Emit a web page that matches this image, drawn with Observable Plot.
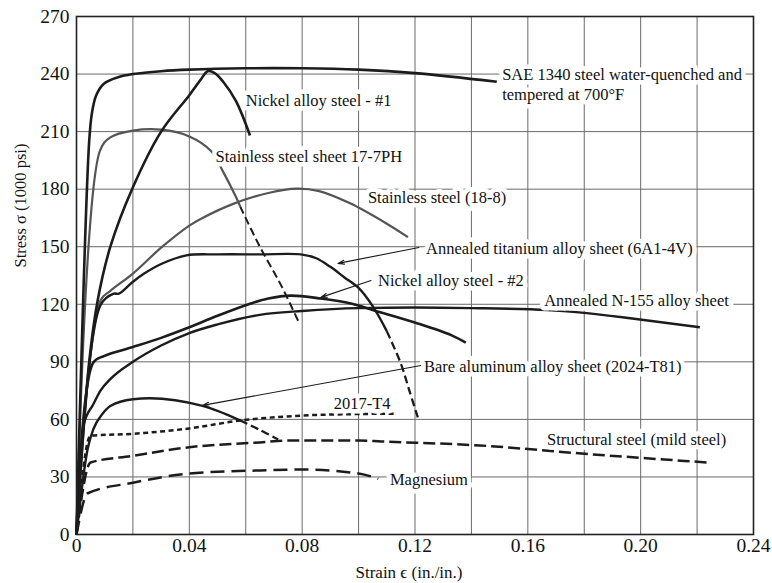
<!DOCTYPE html>
<html>
<head>
<meta charset="utf-8">
<script src="https://cdn.jsdelivr.net/npm/d3@7"></script>
<script src="https://cdn.jsdelivr.net/npm/@observablehq/plot@0.6"></script>
<style>
  html, body { margin: 0; padding: 0; background: #fff; }
</style>
</head>
<body>
<div id="chart"></div>
<script>
// ---- axis ticks ----
const xTicks = [0, 0.04, 0.08, 0.12, 0.16, 0.20, 0.24];
const xTickLabels = ["0", "0.04", "0.08", "0.12", "0.16", "0.20", "0.24"];
const yTicks = [0, 30, 60, 90, 120, 150, 180, 210, 240, 270];
const xGrid = [0.02, 0.04, 0.06, 0.08, 0.10, 0.12, 0.14, 0.16, 0.18, 0.20, 0.22];
const yGrid = [30, 60, 90, 120, 150, 180, 210, 240];

// ---- curves: [strain, stress (1000 psi)] ----
const sae1340 = [[0,0],[0.0045,205],[0.0055,220],[0.007,229],[0.0097,235],[0.015,238.5],[0.02,240],[0.03,241.5],[0.04,242.3],[0.06,243],[0.08,243],[0.10,242.3],[0.12,240.5],[0.149,236]];
const nickel1 = [[0,0],[0.0045,90],[0.0075,122],[0.012,150],[0.02,181],[0.03,210],[0.04,229],[0.044,237],[0.0465,241.5],[0.049,240.5],[0.052,236],[0.0565,226],[0.0615,208]];
const ss177ph = [[0,0],[0.0083,200],[0.012,207],[0.02,210.5],[0.03,211],[0.04,207.5],[0.0476,200],[0.052,189],[0.0565,176],[0.058,171]];
const ss177phDash = [[0.058,171],[0.065,150],[0.0725,130],[0.079,110]];
const ss188 = [[0,0],[0.0085,122],[0.012,127],[0.02,136],[0.03,149.5],[0.04,161],[0.044,164.5],[0.056,172.6],[0.068,178],[0.078,180.3],[0.086,179],[0.097,172.6],[0.11,162],[0.1175,155]];
const titanium = [[0,0],[0.0085,119.5],[0.0132,125.5],[0.015,125.5],[0.0198,131.5],[0.024,136],[0.03,141],[0.039,145.5],[0.05,146],[0.065,146],[0.0795,146],[0.085,144],[0.09,139.5],[0.095,134],[0.10,128.5],[0.105,119],[0.11,106]];
const titaniumDash = [[0.11,106],[0.115,89],[0.118,75],[0.121,61]];
const nickel2 = [[0,0],[0.0059,89.5],[0.0097,93],[0.02,97.7],[0.03,102.5],[0.04,108],[0.05,114],[0.0618,120.4],[0.068,123],[0.076,124.5],[0.0866,123],[0.0973,120.4],[0.1055,116.8],[0.121,110],[0.133,103.8],[0.138,100]];
const n155 = [[0,0],[0.0025,57],[0.006,68],[0.0085,75],[0.012,81],[0.02,90],[0.03,98.5],[0.04,105],[0.05,109.5],[0.065,114.5],[0.08,116.5],[0.10,118],[0.12,118.3],[0.14,118],[0.167,117],[0.18,115.5],[0.197,112.6],[0.221,108]];
const aluminum = [[0,0],[0.004,45],[0.006,55],[0.009,62.5],[0.012,67],[0.02,70.5],[0.026,71],[0.035,70],[0.0447,67],[0.05,64.5],[0.058,59.5]];
const aluminumDash = [[0.058,59.5],[0.065,54.5],[0.0715,49.5]];
const t2017 = [[0,0],[0.005,51.5],[0.02,52.5],[0.04,55.3],[0.058,59.4],[0.08,62],[0.10,62.8],[0.1125,63]];
const structural = [[0,0],[0.005,37.5],[0.02,41],[0.04,45.5],[0.065,48],[0.075,49],[0.10,49],[0.108,48.5],[0.143,46.4],[0.179,42.2],[0.224,37.5]];
const magnesium = [[0,0],[0.004,21.5],[0.02,27],[0.04,31.8],[0.065,33.4],[0.08,33.9],[0.10,31.8],[0.107,29]];

// ---- annotation labels ----
const labelText = [
  "SAE 1340 steel water-quenched and",
  "tempered at 700°F",
  "Nickel alloy steel - #1",
  "Stainless steel sheet 17-7PH",
  "Stainless steel (18-8)",
  "Annealed titanium alloy sheet (6A1-4V)",
  "Nickel alloy steel - #2",
  "Annealed N-155 alloy sheet",
  "Bare aluminum alloy sheet (2024-T81)",
  "2017-T4",
  "Structural steel (mild steel)",
  "Magnesium"
];
const labelStrain = [0.1509, 0.1509, 0.0600, 0.0493, 0.1033, 0.1239, 0.1069, 0.1658, 0.1232, 0.0912, 0.1668, 0.1111];
const labelStress = [239.8, 229.4, 226.3, 197.0, 175.7, 149.1, 132.4, 122.0, 87.6, 68.3, 49.5, 28.7];

// ---- leader arrows: from label to curve ----
const leaderFromStrain = [0.1214, 0.1044, 0.1221];
const leaderFromStress = [149.6, 132.4, 88.1];
const leaderToStrain = [0.0927, 0.0866, 0.0447];
const leaderToStress = [141.3, 123.6, 67.3];

const labels = labelText.map((t, i) => ({t, x: labelStrain[i], y: labelStress[i]}));
const leaders = leaderFromStrain.map((x1, i) => ({x1, y1: leaderFromStress[i], x2: leaderToStrain[i], y2: leaderToStress[i]}));

const dark = "#1c1c1c";
const gray = "#555";
const line = (data, opts) => Plot.line(data, {x: d => d[0], y: d => d[1], curve: "catmull-rom", strokeLinejoin: "round", strokeLinecap: "butt", ...opts});
const mono = "monotone-x";

const chart = Plot.plot({
  width: 772,
  height: 583,
  marginLeft: 76,
  marginRight: 19,
  marginTop: 16,
  marginBottom: 49,
  x: {domain: [0, 0.24]},
  y: {domain: [0, 270]},
  style: {fontFamily: "'Liberation Serif', 'Times New Roman', serif", background: "white", color: "#111"},
  marks: [
    Plot.ruleX(xGrid, {stroke: "#6a6a6a", strokeWidth: 1}),
    Plot.ruleY(yGrid, {stroke: "#6a6a6a", strokeWidth: 1}),
    Plot.frame({stroke: "#222", strokeWidth: 1.6}),
    Plot.axisX(xTicks, {tickSize: 0, tickPadding: 4, fontSize: 19.5, label: null, tickFormat: d => xTickLabels[xTicks.indexOf(d)]}),
    Plot.axisY(yTicks, {tickSize: 0, tickPadding: 7, fontSize: 19.5, label: null}),
    // dashed curves
    line(t2017, {curve: mono, stroke: dark, strokeWidth: 2.5, strokeDasharray: "5,3.5"}),
    line(structural, {curve: mono, stroke: dark, strokeWidth: 2.5, strokeDasharray: "12,5"}),
    line(magnesium, {curve: mono, stroke: dark, strokeWidth: 2.5, strokeDasharray: "14,7"}),
    line(ss177phDash, {stroke: dark, strokeWidth: 2, strokeDasharray: "8,4"}),
    line(titaniumDash, {stroke: dark, strokeWidth: 2.3, strokeDasharray: "8,4"}),
    line(aluminumDash, {stroke: dark, strokeWidth: 2.3, strokeDasharray: "8,4"}),
    // solid curves
    line(ss177ph, {stroke: gray, strokeWidth: 2.2}),
    line(ss188, {stroke: gray, strokeWidth: 2.2}),
    line(aluminum, {curve: mono, stroke: dark, strokeWidth: 2.4}),
    line(n155, {curve: mono, stroke: dark, strokeWidth: 2.4}),
    line(nickel2, {stroke: dark, strokeWidth: 2.6}),
    line(titanium, {stroke: dark, strokeWidth: 2.4}),
    line(nickel1, {stroke: dark, strokeWidth: 2.6}),
    line(sae1340, {stroke: dark, strokeWidth: 2.6}),
    // leaders
    Plot.arrow(leaders, {x1: "x1", y1: "y1", x2: "x2", y2: "y2", stroke: dark, strokeWidth: 1.1, headLength: 9, headAngle: 35}),
    // labels
    Plot.text(labels, {x: "x", y: "y", text: "t", textAnchor: "start", fontSize: 16.5, fill: "#111", stroke: "white", strokeWidth: 9}),
    // axis titles
    Plot.text(["Stress σ (1000 psi)"], {frameAnchor: "left", dx: -56, dy: -8, rotate: -90, fontSize: 16.5, fill: "#111"}),
    Plot.text(["Strain ϵ (in./in.)"], {frameAnchor: "bottom", dx: -6, dy: 43, fontSize: 17, fill: "#111"})
  ]
});
document.getElementById("chart").appendChild(chart);
</script>
</body>
</html>
